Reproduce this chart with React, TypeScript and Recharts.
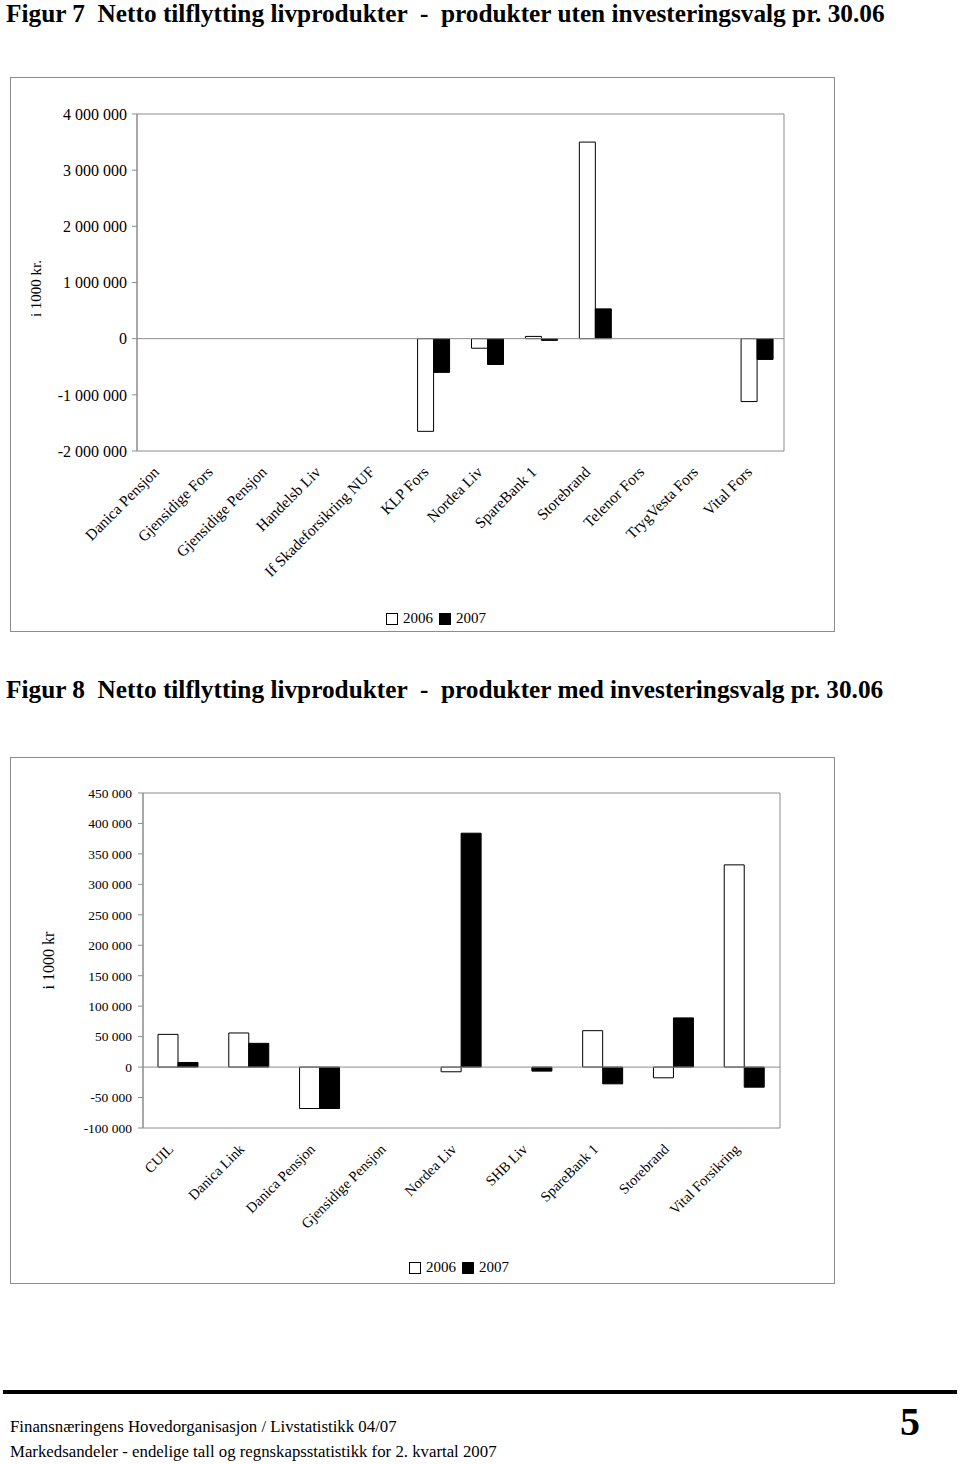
import React from "react";
import {
  BarChart,
  Bar,
  XAxis,
  YAxis,
  ReferenceLine,
  ReferenceArea,
} from "recharts";

// Figur 7 - produkter uten investeringsvalg (i 1000 kr)
const fig7Companies = [
  "Danica Pensjon",
  "Gjensidige Fors",
  "Gjensidige Pensjon",
  "Handelsb Liv",
  "If Skadeforsikring NUF",
  "KLP Fors",
  "Nordea Liv",
  "SpareBank 1",
  "Storebrand",
  "Telenor Fors",
  "TrygVesta Fors",
  "Vital Fors",
];
const fig7Y2006 = [0, 0, 0, 0, 0, -1650000, -170000, 40000, 3500000, 0, 0, -1120000];
const fig7Y2007 = [0, 0, 0, 0, 0, -600000, -460000, -30000, 530000, 0, 0, -370000];
const fig7Ticks = [-2000000, -1000000, 0, 1000000, 2000000, 3000000, 4000000];

// Figur 8 - produkter med investeringsvalg (i 1000 kr)
const fig8Companies = [
  "CUIL",
  "Danica Link",
  "Danica Pensjon",
  "Gjensidige Pensjon",
  "Nordea Liv",
  "SHB Liv",
  "SpareBank 1",
  "Storebrand",
  "Vital Forsikring",
];
const fig8Y2006 = [53700, 56000, -68000, 0, -7700, 0, 59800, -17600, 332000];
const fig8Y2007 = [7600, 39000, -68000, 0, 384000, -6600, -27500, 80800, -33000];
const fig8Ticks = [-100000, -50000, 0, 50000, 100000, 150000, 200000, 250000, 300000, 350000, 400000, 450000];

const years = ["2006", "2007"];

const serif = "'Liberation Serif', 'Times New Roman', serif";
const gray = "#8c8c8c";

const fmt = (v: number) => {
  const s = Math.abs(v).toString().replace(/\B(?=(\d{3})+(?!\d))/g, " ");
  return v < 0 ? `-${s}` : s;
};

const makeTick = (fontSize: number, dy: number) => (props: any) => {
  const { x, y, payload } = props;
  const ax = x - 4;
  const ay = y + dy;
  return (
    <text
      x={ax}
      y={ay}
      transform={`rotate(-45 ${ax} ${ay})`}
      textAnchor="end"
      fontSize={fontSize}
      fontFamily={serif}
      fill="#000"
    >
      {payload.value}
    </text>
  );
};

const yTitle = (text: string, dx: number, dy: number, fontSize: number) => (props: any) => {
  const vb = props.viewBox;
  const x = vb.x + dx;
  const y = vb.y + vb.height / 2 + dy;
  return (
    <text
      x={x}
      y={y}
      transform={`rotate(-90 ${x} ${y})`}
      textAnchor="middle"
      dominantBaseline="central"
      fontSize={fontSize}
      fontFamily={serif}
      fill="#000"
    >
      {text}
    </text>
  );
};

const LegendBox = ({ left, top }: { left: number; top: number }) => (
  <div
    style={{
      position: "absolute",
      left,
      top,
      display: "flex",
      alignItems: "center",
      fontFamily: serif,
      fontSize: 15,
      lineHeight: "15px",
    }}
  >
    {years.map((yr, i) => (
      <React.Fragment key={yr}>
        <span
          style={{
            display: "inline-block",
            width: 10,
            height: 10,
            border: "1px solid #000",
            background: i === 0 ? "#fff" : "#000",
            marginRight: 5,
            marginLeft: i === 0 ? 0 : 6,
          }}
        />
        <span>{yr}</span>
      </React.Fragment>
    ))}
  </div>
);

const heading: React.CSSProperties = {
  position: "absolute",
  left: 6,
  margin: 0,
  fontFamily: serif,
  fontWeight: "bold",
  fontSize: 25.3,
  whiteSpace: "pre",
  lineHeight: "26px",
};

export default function App() {
  const data7 = fig7Companies.map((name, i) => ({
    name,
    y2006: fig7Y2006[i],
    y2007: fig7Y2007[i],
  }));
  const data8 = fig8Companies.map((name, i) => ({
    name,
    y2006: fig8Y2006[i],
    y2007: fig8Y2007[i],
  }));

  return (
    <div
      style={{
        position: "absolute",
        left: 0,
        top: 0,
        width: 960,
        height: 1464,
        background: "#fff",
        fontFamily: serif,
      }}
    >
      <div style={{ ...heading, top: 0 }}>
        {"Figur 7  Netto tilflytting livprodukter  -  produkter uten investeringsvalg pr. 30.06"}
      </div>

      <div
        style={{
          position: "absolute",
          left: 10,
          top: 77,
          width: 825,
          height: 555,
          boxSizing: "border-box",
          border: `1px solid ${gray}`,
        }}
      >
        <BarChart
          width={823}
          height={553}
          data={data7}
          margin={{ top: 36, right: 50, left: 0, bottom: 80 }}
          barGap={0}
          barSize={16}
        >
          <XAxis
            dataKey="name"
            interval={0}
            height={100}
            axisLine={false}
            tickLine={false}
            tick={makeTick(15.5, 14)}
          />
          <YAxis
            width={126}
            domain={[-2000000, 4000000]}
            ticks={fig7Ticks}
            tickFormatter={fmt}
            axisLine={{ stroke: gray }}
            tickLine={{ stroke: gray }}
            tickSize={5}
            tickMargin={5}
            tick={{ fontSize: 16, fontFamily: serif, fill: "#000" }}
            label={{ content: yTitle("i 1000 kr.", 25, 6, 15) }}
          />
          <ReferenceArea
            y1={-2000000}
            y2={4000000}
            fill="none"
            stroke={gray}
            strokeWidth={1}
          />
          <ReferenceLine y={0} stroke={gray} />
          <Bar dataKey="y2006" fill="#fff" stroke="#000" strokeWidth={1} isAnimationActive={false} />
          <Bar dataKey="y2007" fill="#000" stroke="#000" strokeWidth={1} isAnimationActive={false} />
        </BarChart>
        <LegendBox left={375} top={533} />
      </div>

      <div style={{ ...heading, top: 676 }}>
        {"Figur 8  Netto tilflytting livprodukter  -  produkter med investeringsvalg pr. 30.06"}
      </div>

      <div
        style={{
          position: "absolute",
          left: 10,
          top: 757,
          width: 825,
          height: 527,
          boxSizing: "border-box",
          border: `1px solid ${gray}`,
        }}
      >
        <BarChart
          width={823}
          height={525}
          data={data8}
          margin={{ top: 35, right: 54, left: 0, bottom: 55 }}
          barGap={0}
          barSize={20}
        >
          <XAxis
            dataKey="name"
            interval={0}
            height={100}
            axisLine={false}
            tickLine={false}
            tick={makeTick(14.5, 14)}
          />
          <YAxis
            width={132}
            domain={[-100000, 450000]}
            ticks={fig8Ticks}
            tickFormatter={fmt}
            axisLine={{ stroke: gray }}
            tickLine={{ stroke: gray }}
            tickSize={5}
            tickMargin={6}
            tick={{ fontSize: 13.5, fontFamily: serif, fill: "#000" }}
            label={{ content: yTitle("i 1000 kr", 37, 0, 16) }}
          />
          <ReferenceArea
            y1={-100000}
            y2={450000}
            fill="none"
            stroke={gray}
            strokeWidth={1}
          />
          <ReferenceLine y={0} stroke={gray} />
          <Bar dataKey="y2006" fill="#fff" stroke="#000" strokeWidth={1} isAnimationActive={false} />
          <Bar dataKey="y2007" fill="#000" stroke="#000" strokeWidth={1} isAnimationActive={false} />
        </BarChart>
        <LegendBox left={398} top={502} />
      </div>

      <div
        style={{
          position: "absolute",
          left: 3,
          top: 1390,
          width: 954,
          height: 4,
          background: "#000",
        }}
      />
      <div
        style={{
          position: "absolute",
          left: 10,
          top: 1417,
          fontSize: 16.8,
          lineHeight: "20px",
          whiteSpace: "nowrap",
        }}
      >
        Finansnæringens Hovedorganisasjon / Livstatistikk 04/07
      </div>
      <div
        style={{
          position: "absolute",
          left: 10,
          top: 1442,
          fontSize: 16.8,
          lineHeight: "20px",
          whiteSpace: "nowrap",
        }}
      >
        Markedsandeler - endelige tall og regnskapsstatistikk for 2. kvartal 2007
      </div>
      <div
        style={{
          position: "absolute",
          left: 900,
          top: 1401,
          fontSize: 40,
          fontWeight: "bold",
          lineHeight: "42px",
        }}
      >
        5
      </div>
    </div>
  );
}
